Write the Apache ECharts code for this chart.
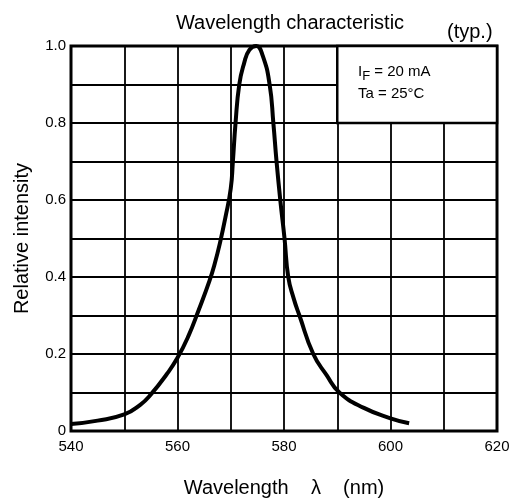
<!DOCTYPE html>
<html>
<head>
<meta charset="utf-8">
<script src="https://cdn.jsdelivr.net/npm/echarts@6/dist/echarts.min.js"></script>
<style>
  html, body { margin: 0; padding: 0; background: #fff; }
  #chart { width: 520px; height: 501px; }
</style>
</head>
<body>
<div id="chart"></div>
<script>
  // spectrum (nm, relative intensity)
  var wavelength = [540, 545, 550, 553, 555, 558, 560, 562, 564, 566, 567, 568, 569, 570, 570.4, 570.9, 571.6, 572.5, 573.5, 574.8, 576, 577.3, 578, 578.6, 579.3, 580.1, 580.8, 581.8, 582.9, 585.5, 588, 590.4, 595, 600, 603.5]
  var intensity = [0.018, 0.027, 0.043, 0.068, 0.095, 0.148, 0.19, 0.245, 0.315, 0.39, 0.435, 0.49, 0.555, 0.63, 0.70, 0.80, 0.90, 0.955, 0.99, 1.0, 0.975, 0.90, 0.80, 0.70, 0.60, 0.50, 0.40, 0.345, 0.30, 0.20, 0.145, 0.10, 0.06, 0.033, 0.02]
  var xLabels = [540, 560, 580, 600, 620]
  var yLabels = [0, 0.2, 0.4, 0.6, 0.8, 1.0]
  var condBox = [[590, 0.8], [620, 1.0]]

  var points = wavelength.map(function (w, i) { return [w, intensity[i]] })
  var font = 'Liberation Sans, Arial, sans-serif'

  var myChart = echarts.init(document.getElementById('chart'))
  var option = {
    animation: false,
    backgroundColor: '#fff',
    textStyle: { fontFamily: font },
    title: {
      text: 'Wavelength characteristic',
      left: 285,
      textAlign: 'center',
      top: 8,
      textStyle: { fontFamily: font, fontSize: 20, fontWeight: 'normal', color: '#000' }
    },
    grid: {
      left: 71,
      right: 23,
      top: 46,
      bottom: 70,
      outerBoundsMode: 'none',
      containLabel: false,
      show: true,
      borderColor: '#000',
      borderWidth: 3,
      backgroundColor: '#fff'
    },
    xAxis: {
      type: 'value',
      min: 540,
      max: 620,
      interval: 10,
      name: 'Wavelength    \u03bb    (nm)',
      nameLocation: 'middle',
      nameGap: 47,
      nameTextStyle: { fontFamily: font, fontSize: 20, color: '#000' },
      axisLine: { show: false },
      axisTick: { show: false },
      axisLabel: {
        margin: 8,
        fontSize: 15,
        color: '#000',
        formatter: function (v) { return xLabels.indexOf(v) >= 0 ? String(v) : '' }
      },
      splitLine: { show: true, lineStyle: { color: '#000', width: 1.8 } }
    },
    yAxis: {
      type: 'value',
      min: 0,
      max: 1,
      interval: 0.1,
      name: 'Relative intensity',
      nameLocation: 'middle',
      nameGap: 39,
      nameTextStyle: { fontFamily: font, fontSize: 20, color: '#000' },
      axisLine: { show: false },
      axisTick: { show: false },
      axisLabel: {
        margin: 5,
        fontSize: 15,
        color: '#000',
        formatter: function (v) {
          var r = Math.round(v * 10) / 10
          for (var i = 0; i < yLabels.length; i++) {
            if (Math.abs(yLabels[i] - r) < 1e-6) return r === 0 ? '0' : r.toFixed(1)
          }
          return ''
        }
      },
      splitLine: { show: true, lineStyle: { color: '#000', width: 1.8 } }
    },
    series: [
      {
        type: 'line',
        data: points,
        showSymbol: false,
        smooth: true,
        lineStyle: { color: '#000', width: 4 },
        markArea: {
          silent: true,
          itemStyle: { color: '#fff', borderColor: '#000', borderWidth: 2.5 },
          label: { show: false },
          data: [[{ coord: condBox[0] }, { coord: condBox[1] }]]
        }
      }
    ],
    graphic: [
      {
        type: 'text',
        z: 100,
        left: 447,
        top: 22,
        style: { text: '(typ.)', fontFamily: font, fontSize: 20, fill: '#000' }
      },
      {
        type: 'text',
        z: 100,
        left: 358,
        top: 64,
        style: {
          text: '{a|I}{s|F}{a| = 20 mA}',
          rich: {
            a: { fontFamily: font, fontSize: 15, fill: '#000', verticalAlign: 'top', lineHeight: 18 },
            s: { fontFamily: font, fontSize: 13, fill: '#000', padding: [6, 0, 0, 0], lineHeight: 18 }
          }
        }
      },
      {
        type: 'text',
        z: 100,
        left: 358,
        top: 86,
        style: { text: 'Ta = 25\u00b0C', fontFamily: font, fontSize: 15, fill: '#000' }
      }
    ]
  }
  myChart.setOption(option)
</script>
</body>
</html>
